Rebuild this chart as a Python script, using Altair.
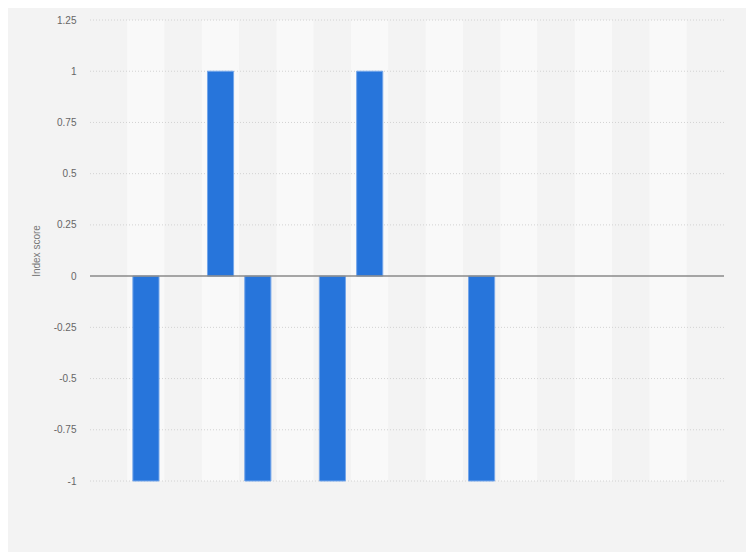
import altair as alt
import pandas as pd

categories = [f"Item {i}" for i in range(1, 18)]
values = [None, -1, None, 1, -1, None, -1, 1, None, None, -1, None, None, None, None, None, None]
shade = ["dark" if i % 2 == 0 else "light" for i in range(len(categories))]
y_ticks = [-1, -0.75, -0.5, -0.25, 0, 0.25, 0.5, 0.75, 1, 1.25]

df = pd.DataFrame({"category": categories, "value": values, "shade": shade})
grid_df = pd.DataFrame({"value": [t for t in y_ticks if t != 0]})
zero_df = pd.DataFrame({"value": [0]})

W, H = 634, 461

x_enc = alt.X("category:N", sort=categories, axis=None,
              scale=alt.Scale(paddingInner=0, paddingOuter=0))
y_scale = alt.Scale(domain=[-1, 1.25], nice=False, zero=True)
y_axis = alt.Axis(values=y_ticks, title="Index score", labelExpr="toString(datum.value)",
                  grid=False, ticks=False, domain=False, labelPadding=14, labelColor="#666666",
                  labelFontSize=10, labelFont="Liberation Sans", titleFont="Liberation Sans",
                  titleFontSize=10, titleFontWeight="normal", titleColor="#777777",
                  titlePadding=12)
y_enc = alt.Y("value:Q", scale=y_scale, axis=y_axis)

bands = alt.Chart(df).mark_rect().encode(
    x=x_enc,
    y=alt.value(0),
    y2=alt.value(H),
    fill=alt.Fill("shade:N", scale=alt.Scale(domain=["dark", "light"], range=["#f3f3f3", "#f9f9f9"]), legend=None),
)

grid = alt.Chart(grid_df).mark_rule(color="#d2d2d2", strokeDash=[1, 2], strokeWidth=1).encode(
    y=y_enc, x=alt.value(0), x2=alt.value(W)
)

bars = alt.Chart(df).transform_filter("datum.value != null").mark_bar(
    color="#2775db", stroke="#74a6ea", strokeWidth=1, width=alt.RelativeBandSize(0.7)
).encode(
    x=x_enc,
    y=y_enc,
)

zero = alt.Chart(zero_df).mark_rule(color="#8a8a8a", strokeWidth=1.5).encode(
    y=y_enc, x=alt.value(0), x2=alt.value(W)
)

chart = alt.layer(bands, grid, bars, zero).properties(
    width=W, height=H,
    background="#f3f3f3",
    autosize=alt.AutoSizeParams(type="none"),
    padding={"left": 82, "top": 12, "right": 22, "bottom": 71},
).configure_view(stroke=None)

chart.save("out.html", embed_options={"renderer": "svg", "actions": False})
